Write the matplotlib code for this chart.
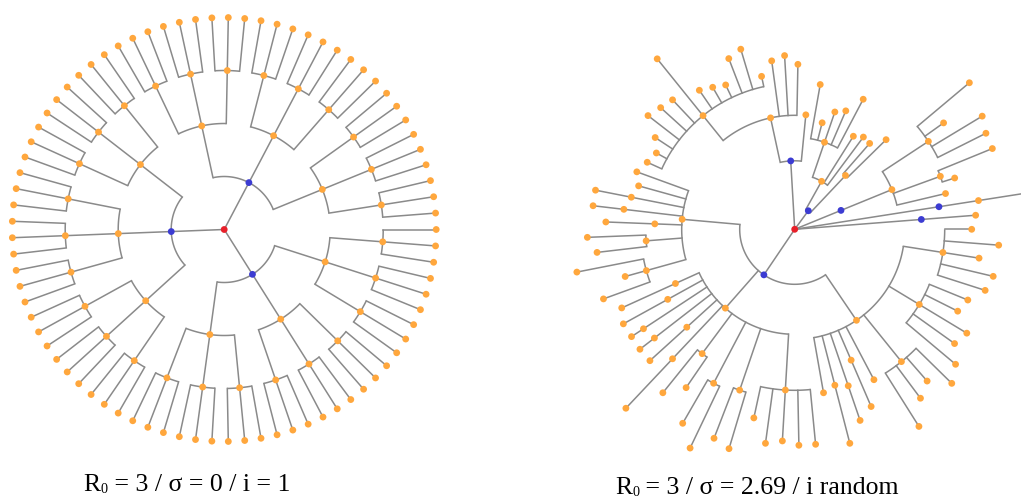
import numpy as np
import matplotlib.pyplot as plt

plt.rcParams['mathtext.fontset'] = 'custom'
plt.rcParams['mathtext.rm'] = 'Liberation Serif'

c_line = '#8a8a8a'
c_root = '#e8202a'
c_gen1 = '#3c3cd2'
c_other = '#ffa73d'

# ---- left tree: R0 = 3, sigma = 0, i = 1 (every case has 3 offspring one step later)
left_offspring = 3
left_generations = 4
left_interval = 1.0

# ---- right tree: (time since index case, [offspring]); leaves have no offspring
tree_E = (127, [(181.5, [])])
tree_D = (146, [(186, [(265, [])])])
tree_C = (50, [(105, [(155, []),
                      (155, [(168, []), (213.5, [])]),
                      (160, [(214, []), (219, []), (183, []), (228, [])])])])
tree_B = (23, [(74, [(128, []), (114, [])]),
               (55, [(115, []), (110, []),
                     (92, [(147, []), (129, []), (124, []), (110, []), (147, [])])])])
tree_A = (68.5, [(115, []),
                 (114, [(165, []), (174, []), (170, []),
                        (146, [(156.5, []), (188, []), (183, []), (160, []), (164, []),
                               (168.6, []), (219, []), (178, []), (181, []), (185.6, []),
                               (167, []), (158, []), (162, [])])])])
tree_G = (113, [(168, []), (162, []),
                (166.5, [(203, [])]), (172, [(203, [])]), (140, [(189, [])]),
                (149, [(207.5, []), (199, [])]),
                (154, [(222, []), (176, []), (203.5, [])])])
tree_H = (105, [(131, [(190, [])]), (145, [(195.7, [])]), (181, [(195.3, [])]),
                (177.5, [(195.8, [])]), (145.7, [(195.5, [])]), (178, [(246, [])]),
                (155, [(210, []), (192, [])]),
                (174, [(224, []), (242.5, [])]),
                (170, [(224, []), (229, [])]),
                (161, [(193, []), (216, []), (212, []), (216, []), (216, [])])])
tree_P = (110, [(166, []), (161, [(221, [])]), (165.4, [(202, [])]), (142.5, [(193, [])]),
                (170, []),
                (170, [(233, []), (210.6, []), (201.4, []), (220, [])]),
                (145.5, [(210, []), (196.5, []), (201, []), (182.4, []), (187, [])]),
                (150, [(200, []), (204, []), (186.6, []), (204.6, []), (177, [])])])
tree_F = (55, [tree_G, tree_H, tree_P])
right_tree = (0, [tree_E, tree_D, tree_C, tree_B, tree_A, tree_F])

left_label = ('R', '0', ' = 3 / σ = 0 / i = 1')
right_label = ('R', '0', ' = 3 / σ = 2.69 / i random')


def full_tree(gen):
    kids = []
    if gen < left_generations:
        kids = [full_tree(gen + 1) for _ in range(left_offspring)]
    return (gen * left_interval, kids)


def n_leaves(node):
    if not node[1]:
        return 1
    return sum(n_leaves(k) for k in node[1])


def place(node, nleaf, counter, out, depth=0):
    t, kids = node
    if kids:
        angs = [place(k, nleaf, counter, out, depth + 1) for k in kids]
        ang = float(np.mean(angs))
    else:
        counter[0] += 1
        ang = 360.0 * counter[0] / nleaf
        angs = []
    out.append((t, ang, depth, [(k[0], a) for k, a in zip(kids, angs)]))
    return ang


def draw_tree(ax, tree, scale):
    out = []
    place(tree, n_leaves(tree), [0], out)
    for t, ang, depth, kids in out:
        if not kids:
            continue
        r = t * scale
        a = [k[1] for k in kids]
        if r > 0 and max(a) - min(a) > 0:
            th = np.radians(np.linspace(min(a), max(a), 60))
            ax.plot(r * np.cos(th), r * np.sin(th), color=c_line, lw=1.1,
                    solid_capstyle='butt', zorder=1)
        for tk, ak in kids:
            th = np.radians(ak)
            ax.plot([r * np.cos(th), tk * scale * np.cos(th)],
                    [r * np.sin(th), tk * scale * np.sin(th)],
                    color=c_line, lw=1.1, zorder=1)
    for t, ang, depth, kids in out:
        col = c_root if depth == 0 else (c_gen1 if depth == 1 else c_other)
        th = np.radians(ang)
        ax.scatter([t * scale * np.cos(th)], [t * scale * np.sin(th)], s=24,
                   color=col, edgecolors='none', zorder=3)


def label(fig, x_px, y_px, parts):
    # R with a small 0 subscript, then the rest of the caption
    base, sub, rest = parts
    fs = 18.5
    t0 = fig.text(0, 0, base, family='Liberation Serif', fontsize=fs)
    t1 = fig.text(0, 0, sub, family='Liberation Serif', fontsize=fs * 0.55)
    t2 = fig.text(0, 0, rest, family='Liberation Serif', fontsize=fs)
    r = fig.canvas.get_renderer()
    w0 = t0.get_window_extent(r).width
    w1 = t1.get_window_extent(r).width
    w2 = t2.get_window_extent(r).width
    x = x_px - (w0 + w1 + w2) / 2
    y = H - y_px
    t0.set_position((x / W, y / H))
    t1.set_position(((x + w0) / W, (y - 2) / H))
    t2.set_position(((x + w0 + w1) / W, y / H))
    for t in (t0, t1, t2):
        t.set_va('baseline')


W, H = 1021, 499
fig = plt.figure(figsize=(W / 100, H / 100), dpi=100)

# left panel, pixel units, centre of tree at (224, 229.5)
ax1 = fig.add_axes([0, 0, 450 / W, 1])
draw_tree(ax1, full_tree(0), 53)
ax1.set_xlim(-224.2, 450 - 224.2)
ax1.set_ylim(-(H - 229.5), 229.5)

# right panel, centre at (794.7, 229.3)
ax2 = fig.add_axes([560 / W, 0, (W - 560) / W, 1])
draw_tree(ax2, right_tree, 1)
ax2.set_xlim(560 - 794.7, W - 794.7)
ax2.set_ylim(-(H - 229.3), 229.3)

for ax in (ax1, ax2):
    ax.set_aspect('equal', adjustable='datalim')
    ax.axis('off')

label(fig, 187, 491, left_label)
label(fig, 757, 494, right_label)

fig.savefig('out.png', dpi=100)
